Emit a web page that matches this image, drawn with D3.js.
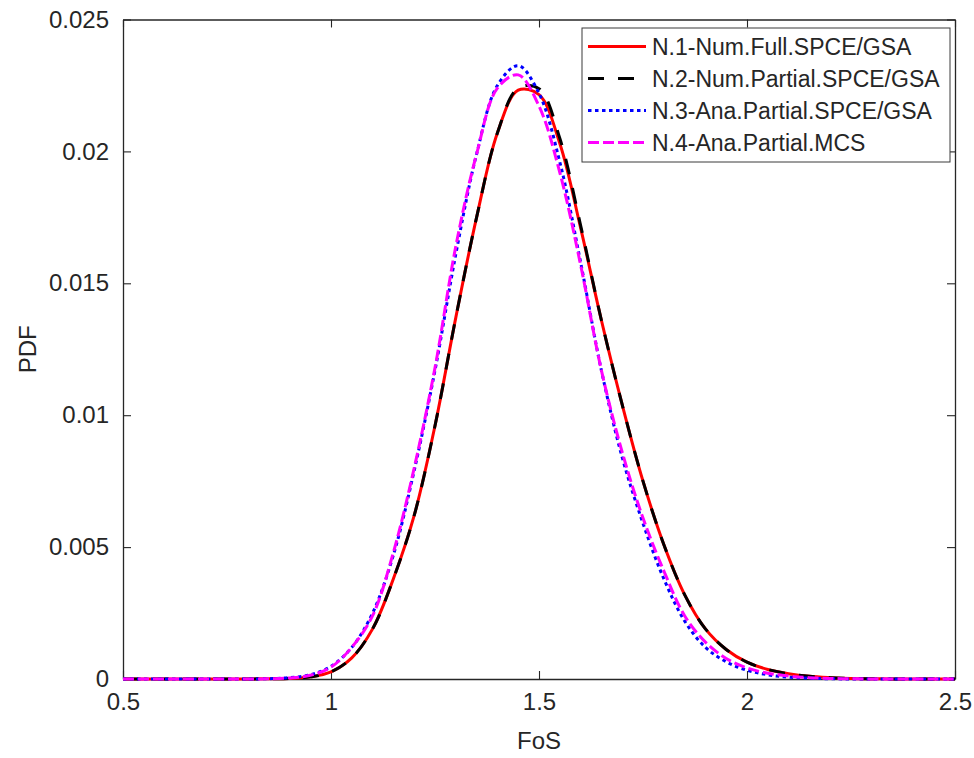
<!DOCTYPE html>
<html>
<head>
<meta charset="utf-8">
<script src="https://cdn.jsdelivr.net/npm/d3@7"></script>
<style>
  body { margin: 0; background: #fff; }
  svg text { font-family: "Liberation Sans", Arial, Helvetica, sans-serif; fill: #262626; }
</style>
</head>
<body>
<svg id="chart" width="974" height="758"></svg>
<script>
// FoS grid (shared by every series)
let fos = [0.5, 0.55, 0.6, 0.65, 0.7, 0.75, 0.8, 0.85, 0.9, 0.95,
           1.0, 1.05, 1.1, 1.15, 1.2, 1.25, 1.3, 1.35, 1.4, 1.45,
           1.5, 1.55, 1.6, 1.65, 1.7, 1.75, 1.8, 1.85, 1.9, 1.95,
           2.0, 2.05, 2.1, 2.15, 2.2, 2.25, 2.3, 2.35, 2.4, 2.45, 2.5]

let pdfN1 = [0, 0, 0, 0, 0, 0, 0, 0.00001, 0.00002, 0.00008,
             0.00027, 0.0008, 0.0019, 0.0038, 0.0062, 0.0096, 0.0137, 0.0175, 0.0207, 0.02232,
             0.02215, 0.0203, 0.0171, 0.0136, 0.0104, 0.0075, 0.0051, 0.0032, 0.0019, 0.00112,
             0.00064, 0.00036, 0.0002, 0.0001, 0.00005, 0.00002, 0.00001, 0, 0, 0, 0]

let pdfN2 = [0, 0, 0, 0, 0, 0, 0, 0.00001, 0.00002, 0.00008,
             0.00027, 0.0008, 0.0019, 0.0038, 0.0062, 0.0096, 0.0137, 0.0175, 0.0207, 0.0224,
             0.02238, 0.0205, 0.0172, 0.0136, 0.0104, 0.0075, 0.0051, 0.0032, 0.0019, 0.00112,
             0.00064, 0.00036, 0.0002, 0.0001, 0.00005, 0.00002, 0.00001, 0, 0, 0, 0]

let pdfN3 = [0, 0, 0, 0, 0, 0, 0, 0.00001, 0.00005, 0.00016,
             0.00048, 0.0012, 0.0025, 0.0047, 0.0079, 0.0117, 0.0161, 0.0199, 0.0225, 0.02325,
             0.0222, 0.0196, 0.0158, 0.0117, 0.0084, 0.0059, 0.0038, 0.0022, 0.0012, 0.00065,
             0.00033, 0.00016, 0.00007, 0.00003, 0.00001, 0, 0, 0, 0, 0, 0]

let pdfN4 = [0, 0, 0, 0, 0, 0, 0, 0.00001, 0.00004, 0.00014,
             0.00045, 0.0012, 0.0024, 0.0048, 0.008, 0.0118, 0.0164, 0.0199, 0.0224, 0.0229,
             0.02172, 0.0192, 0.0157, 0.0117, 0.0086, 0.0061, 0.0041, 0.0024, 0.0014, 0.00078,
             0.00042, 0.00022, 0.00011, 0.00005, 0.00002, 0.00001, 0, 0, 0, 0, 0]

let legendNames = ['N.1-Num.Full.SPCE/GSA', 'N.2-Num.Partial.SPCE/GSA',
                   'N.3-Ana.Partial.SPCE/GSA', 'N.4-Ana.Partial.MCS']

let xTicks = [0.5, 1, 1.5, 2, 2.5]
let yTicks = [0, 0.005, 0.01, 0.015, 0.02, 0.025]

let series = [
  {name: legendNames[0], values: pdfN1, color: '#ff0000', dash: null},
  {name: legendNames[1], values: pdfN2, color: '#000000', dash: '16,14'},
  {name: legendNames[2], values: pdfN3, color: '#0000ff', dash: '3.5,3.5'},
  {name: legendNames[3], values: pdfN4, color: '#ff00ff', dash: '11,4'}
]

let margin = {left: 123, top: 19.5, right: 19, bottom: 79}
let width = 974 - margin.left - margin.right
let height = 758 - margin.top - margin.bottom

let svg = d3.select('#chart')
let g = svg.append('g').attr('transform', `translate(${margin.left},${margin.top})`)

let x = d3.scaleLinear().domain([0.5, 2.5]).range([0, width])
let y = d3.scaleLinear().domain([0, 0.025]).range([height, 0])

// frame with inward ticks on every side (matlab box on)
let tickLen = 8
let axisColor = '#262626'

let xAxis = g.append('g').attr('transform', `translate(0,${height})`)
  .call(d3.axisBottom(x).tickValues(xTicks).tickSizeInner(-tickLen).tickSizeOuter(0).tickPadding(14)
        .tickFormat(d3.format('')))
let xAxisTop = g.append('g')
  .call(d3.axisTop(x).tickValues(xTicks).tickSizeInner(-tickLen).tickSizeOuter(0).tickFormat(''))
let yAxis = g.append('g')
  .call(d3.axisLeft(y).tickValues(yTicks).tickSizeInner(-tickLen).tickSizeOuter(0).tickPadding(14)
        .tickFormat(d => d === 0 ? '0' : d3.format('')(+d.toFixed(3))))
let yAxisRight = g.append('g').attr('transform', `translate(${width},0)`)
  .call(d3.axisRight(y).tickValues(yTicks).tickSizeInner(-tickLen).tickSizeOuter(0).tickFormat(''))

;[xAxis, xAxisTop, yAxis, yAxisRight].forEach(function(a){
  a.select('.domain').attr('stroke', axisColor).attr('stroke-width', 1.3)
  a.selectAll('.tick line').attr('stroke', axisColor).attr('stroke-width', 1.1)
  a.selectAll('.tick text').attr('font-size', 24).attr('fill', axisColor)
    .style('font-family', '"Liberation Sans", Arial, sans-serif')
})
xAxis.selectAll('.tick text').attr('dy', '0.71em')

// curves
let line = d3.line()
  .x((d, i) => x(fos[i]))
  .y(d => y(d))
  .curve(d3.curveCatmullRom.alpha(0.5))

g.append('defs').append('clipPath').attr('id', 'clip')
  .append('rect').attr('x', 0).attr('y', 0).attr('width', width).attr('height', height + 3)

series.forEach(function(s){
  g.append('path')
    .datum(s.values)
    .attr('clip-path', 'url(#clip)')
    .attr('fill', 'none')
    .attr('stroke', s.color)
    .attr('stroke-width', 3)
    .attr('stroke-dasharray', s.dash)
    .attr('d', line)
})

// axis labels
svg.append('text')
  .attr('x', margin.left + width / 2)
  .attr('y', 749)
  .attr('text-anchor', 'middle')
  .attr('font-size', 24)
  .text('FoS')

svg.append('text')
  .attr('transform', `translate(36,${margin.top + height / 2}) rotate(-90)`)
  .attr('text-anchor', 'middle')
  .attr('font-size', 24)
  .text('PDF')

// legend
let legend = svg.append('g').attr('transform', 'translate(582,28)')
legend.append('rect')
  .attr('width', 368).attr('height', 134)
  .attr('fill', '#fff')
  .attr('stroke', '#3a3a3a')
  .attr('stroke-width', 1)

series.forEach(function(s, i){
  let ly = 18.5 + i * 32
  legend.append('line')
    .attr('x1', 6).attr('x2', 64)
    .attr('y1', ly).attr('y2', ly)
    .attr('stroke', s.color)
    .attr('stroke-width', 3)
    .attr('stroke-dasharray', s.dash)
  legend.append('text')
    .attr('x', 70).attr('y', ly)
    .attr('dy', '0.36em')
    .attr('font-size', 23)
    .attr('fill', '#000')
    .text(s.name)
})
</script>
</body>
</html>
